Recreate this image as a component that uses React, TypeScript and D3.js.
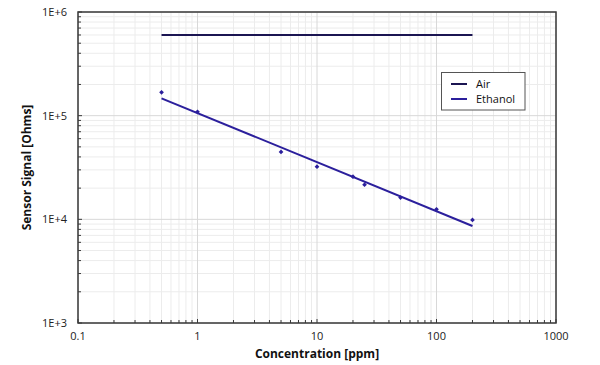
import React from "react";
import * as d3 from "d3";

// values
const ethanolConc = [0.5, 1, 5, 10, 20, 25, 50, 100, 200];
const ethanolOhms = [168000, 109000, 44700, 32200, 25800, 21600, 16200, 12500, 9860];
const fitConc = [0.5, 200];
const fitOhms = [147000, 8630];
const airConc = [0.5, 200];
const airOhms = [600000, 600000];
const xTickValues = [0.1, 1, 10, 100, 1000];
const xTickLabels = ["0.1", "1", "10", "100", "1000"];
const yTickValues = [1e3, 1e4, 1e5, 1e6];
const yTickLabels = ["1E+3", "1E+4", "1E+5", "1E+6"];
const legendNames = ["Air", "Ethanol"];

const AIR_COLOR = "#1b1552";
const ETH_COLOR = "#2b1f9c";

const App = () => {
  const width = 600;
  const height = 365;
  const left = 78;
  const top = 12;
  const right = 556;
  const bottom = 323;
  const font = "'Open Sans', 'DejaVu Sans', sans-serif";

  const x = d3.scaleLog().domain([0.1, 1000]).range([left, right]);
  const y = d3.scaleLog().domain([1e3, 1e6]).range([bottom, top]);

  // minor positions 2..9 in every decade
  const minorX: number[] = [];
  for (let d = 0.1; d < 1000; d *= 10) {
    for (let k = 2; k <= 9; k++) minorX.push(d * k);
  }
  const minorY: number[] = [];
  for (let d = 1e3; d < 1e6; d *= 10) {
    for (let k = 2; k <= 9; k++) minorY.push(d * k);
  }

  const line = d3
    .line<[number, number]>()
    .x(d => x(d[0]))
    .y(d => y(d[1]));

  const fitPts = fitConc.map((c, i) => [c, fitOhms[i]] as [number, number]);
  const airPts = airConc.map((c, i) => [c, airOhms[i]] as [number, number]);
  const marker = d3.symbol(d3.symbolSquare, 11)() || "";

  return (
    <svg width={width} height={height} style={{ position: "absolute", left: 0, top: 0 }}>
      <rect width={width} height={height} fill="#fff" />
      {/* grid */}
      {minorX.map((v, i) => (
        <line key={"gx" + i} x1={x(v)} x2={x(v)} y1={top} y2={bottom} stroke="#ececec" strokeWidth={1} />
      ))}
      {minorY.map((v, i) => (
        <line key={"gy" + i} x1={left} x2={right} y1={y(v)} y2={y(v)} stroke="#ececec" strokeWidth={1} />
      ))}
      {xTickValues.map((v, i) => (
        <line key={"Gx" + i} x1={x(v)} x2={x(v)} y1={top} y2={bottom} stroke="#d8d8d8" strokeWidth={1} />
      ))}
      {yTickValues.map((v, i) => (
        <line key={"Gy" + i} x1={left} x2={right} y1={y(v)} y2={y(v)} stroke="#d8d8d8" strokeWidth={1} />
      ))}

      {/* frame */}
      <rect x={left} y={top} width={right - left} height={bottom - top} fill="none" stroke="#3a3a3a" strokeWidth={1.5} />

      {/* inside ticks */}
      {minorX.map((v, i) => (
        <line key={"tx" + i} x1={x(v)} x2={x(v)} y1={bottom} y2={bottom - 3} stroke="#3a3a3a" />
      ))}
      {xTickValues.map((v, i) => (
        <line key={"Tx" + i} x1={x(v)} x2={x(v)} y1={bottom} y2={bottom - 4} stroke="#3a3a3a" />
      ))}
      {minorY.map((v, i) => (
        <line key={"ty" + i} x1={left} x2={left + 3} y1={y(v)} y2={y(v)} stroke="#3a3a3a" />
      ))}
      {yTickValues.map((v, i) => (
        <line key={"Ty" + i} x1={left} x2={left + 4} y1={y(v)} y2={y(v)} stroke="#3a3a3a" />
      ))}

      {/* tick labels */}
      {xTickValues.map((v, i) => (
        <text key={"lx" + i} x={x(v)} y={bottom + 17} textAnchor="middle" fontFamily={font} fontSize={11} fill="#222">
          {xTickLabels[i]}
        </text>
      ))}
      {yTickValues.map((v, i) => (
        <text key={"ly" + i} x={left - 11} y={y(v) + 4} textAnchor="end" fontFamily={font} fontSize={11} fill="#222">
          {yTickLabels[i]}
        </text>
      ))}

      {/* axis titles */}
      <text x={(left + right) / 2} y={358} textAnchor="middle" fontFamily={font} fontSize={12} fontWeight="bold" fill="#111">
        Concentration [ppm]
      </text>
      <text
        transform={`translate(31, ${(top + bottom) / 2}) rotate(-90)`}
        textAnchor="middle"
        fontFamily={font}
        fontSize={12}
        fontWeight="bold"
        fill="#111"
      >
        Sensor Signal [Ohms]
      </text>

      {/* series */}
      <path d={line(airPts) || ""} fill="none" stroke={AIR_COLOR} strokeWidth={2} />
      <path d={line(fitPts) || ""} fill="none" stroke={ETH_COLOR} strokeWidth={2} />
      {ethanolConc.map((c, i) => (
        <path
          key={"p" + i}
          transform={`translate(${x(c)}, ${y(ethanolOhms[i])}) rotate(45)`}
          d={marker}
          fill={ETH_COLOR}
        />
      ))}

      {/* legend */}
      <rect x={441.5} y={72.5} width={83.5} height={37.5} fill="#fff" stroke="#555" strokeWidth={1} />
      {legendNames.map((n, i) => (
        <g key={n}>
          <line x1={451} x2={467} y1={84 + i * 15} y2={84 + i * 15} stroke={i === 0 ? AIR_COLOR : ETH_COLOR} strokeWidth={2} />
          <text x={476} y={88 + i * 15} fontFamily={font} fontSize={11} fill="#111">
            {n}
          </text>
        </g>
      ))}
    </svg>
  );
};

export default App;
